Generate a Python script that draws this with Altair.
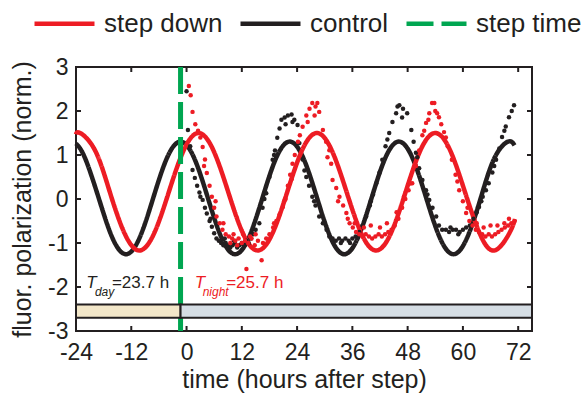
import altair as alt
import pandas as pd

FONT = "Liberation Sans"
RED = "#ed1c24"
BLACK = "#231f20"
GREEN = "#00a651"
TAN = "#f3e7c9"
BLUEGRAY = "#d5dde4"

# ---------------- data ----------------
series_names = ["step down", "control", "step time"]
step_t = -1.3

x_ticks = [-24, -12, 0, 12, 24, 36, 48, 60, 72]
y_ticks = [-3, -2, -1, 0, 1, 2, 3]

# fitted curves
ctrl_fit_t = [-24.0, -22.04, -19.08, -16.11, -13.15, -10.19, -7.23, -4.26, -1.3,
              1.66, 4.63, 7.59, 10.55, 13.51, 16.48, 19.44, 22.4,
              25.36, 28.33, 31.29, 34.25, 37.21, 40.18, 43.14, 46.1,
              49.06, 52.03, 54.99, 57.95, 60.91, 63.88, 66.84, 69.8, 71.2]
ctrl_fit_y = [1.26, 0.93, 0.025, -0.88, -1.255, -0.88, 0.025, 0.93, 1.305,
              0.93, 0.025, -0.88, -1.255, -0.88, 0.025, 0.93, 1.305,
              0.93, 0.025, -0.88, -1.255, -0.88, 0.025, 0.93, 1.305,
              0.93, 0.025, -0.88, -1.255, -0.88, 0.025, 0.93, 1.305, 1.22]

red_fit_t = [-24.0, -23.1, -19.89, -16.68, -13.46, -10.25, -7.04, -3.83, -0.61, 2.6,
             5.81, 9.03, 12.24, 15.45, 18.66, 21.88, 25.09, 28.3,
             31.51, 34.73, 37.94, 41.15, 44.36, 47.58, 50.79, 54.0,
             57.21, 60.43, 63.64, 66.85, 70.06, 71.3]
red_fit_y = [1.47, 1.5, 1.11, 0.165, -0.78, -1.17, -0.78, 0.165, 1.11, 1.5,
             1.11, 0.165, -0.78, -1.17, -0.78, 0.165, 1.11, 1.5,
             1.11, 0.165, -0.78, -1.17, -0.78, 0.165, 1.11, 1.5,
             1.11, 0.165, -0.78, -1.17, -0.78, -0.46]

# measured data points
ctrl_t = [0.0, 0.3, 0.8, 1.3, 1.8, 2.3, 2.8, 3.5, 4.0, 4.4, 5.0, 5.5, 6.0, 6.5, 7.0, 7.5,
          8.0, 8.5, 9.0, 9.5, 10.0, 10.5, 11.0, 11.5, 12.0, 12.5, 13.0, 13.5, 14.0, 14.5,
          15.0, 15.8, 16.5, 17.3, 18.0, 18.7, 19.2, 19.7, 20.2, 20.6, 21.3, 22.0, 22.8,
          23.4, 24.1, 24.5, 25.2, 26.0, 26.6, 27.3, 28.0, 28.8, 29.6, 30.4, 31.0, 31.7,
          32.4, 33.1, 33.8, 34.5, 35.2, 36.0, 36.7, 37.5, 38.2, 39.0, 39.8, 40.5, 41.2,
          41.9, 42.5, 43.2, 44.0, 44.7, 45.5, 46.2, 47.0, 47.9, 48.8, 49.3, 49.8, 50.5,
          51.2, 52.0, 52.7, 53.4, 54.2, 54.8, 55.5, 56.3, 57.0, 57.8, 58.5, 59.3, 60.0,
          60.7, 61.5, 62.3, 63.0, 63.5, 64.3, 65.0, 65.6, 66.4, 67.2, 67.9, 68.5, 69.3,
          70.0, 70.6, 71.1,
          21.5, 23.0, 46.8, 45.8, 8.3, 10.3, 33.5, 35.5, 57.3, 59.0,
          3.0, 5.2, 16.9, 19.0, 25.6, 27.7, 40.0, 43.6, 50.1, 52.3, 64.0, 66.8, 69.0]
ctrl_y = [2.45, 1.57, 1.2, 0.66, 0.48, 0.3, 0.15, -0.02, -0.2, -0.33, -0.5, -0.63, -0.78,
          -0.9, -0.95, -1.0, -1.05, -1.0, -1.05, -1.1, -1.05, -1.0, -1.1, -1.05, -1.0,
          -1.05, -0.95, -1.0, -0.9, -0.8, -0.7, -0.55, -0.2, 0.13, 0.5, 0.89, 1.1, 1.39,
          1.6, 1.8, 1.85, 1.9, 1.92, 1.8, 1.68, 1.27, 0.9, 0.5, 0.3, 0.05, -0.15, -0.4,
          -0.55, -0.7, -0.85, -0.9, -0.95, -0.9, -0.95, -0.9, -0.95, -0.9, -0.85, -0.75,
          -0.6, -0.4, -0.15, 0.1, 0.36, 0.6, 0.89, 1.2, 1.5, 1.75, 1.95, 2.13, 2.05, 1.95,
          1.57, 1.3, 1.05, 0.7, 0.43, 0.2, -0.02, -0.2, -0.4, -0.6, -0.7, -0.7, -0.75,
          -0.7, -0.7, -0.75, -0.7, -0.65, -0.6, -0.45, -0.3, -0.18, 0.05, 0.2, 0.36, 0.6,
          0.89, 1.15, 1.41, 1.65, 1.86, 2.0, 2.13,
          1.7, 1.75, 1.85, 2.1, -0.9, -0.95, -1.0, -1.0, -0.65, -0.8,
          0.05, -0.45, 0.0, 1.0, 0.65, -0.05, -0.05, 1.35, 0.95, 0.1, -0.05, 0.75, 1.55]

step_t_pts = [0.5, 0.9, 1.3, 1.9, 2.5, 3.0, 3.5, 4.0, 4.4, 5.0, 5.5, 6.0, 6.5, 7.2, 7.8,
              8.5, 9.2, 9.9, 10.6, 11.3, 12.0, 12.7, 13.0, 13.4, 14.1, 14.8, 15.5, 16.3,
              16.6, 17.3, 18.0, 18.8, 19.5, 20.2, 20.9, 21.5, 22.0, 22.5, 23.0, 23.5, 24.2,
              25.2, 26.0, 26.7, 27.3, 28.0, 28.8, 29.6, 30.3, 31.0, 31.4, 31.7, 32.5, 33.2,
              34.0, 34.7, 35.4, 36.1, 36.8, 37.5, 38.2, 38.9, 39.6, 40.3, 41.0, 41.7, 42.4,
              43.1, 43.8, 44.5, 45.2, 46.0, 46.8, 47.5, 48.2, 49.0, 49.8, 50.5, 51.2, 52.0,
              52.7, 53.3, 54.0, 54.8, 55.3, 55.9, 56.7, 57.6, 58.4, 59.2, 60.0, 60.7, 61.4,
              62.1, 62.8, 63.5, 64.2, 64.9, 65.6, 66.3, 67.0, 67.7, 68.4, 69.1, 69.8, 70.5,
              71.2,
              9.5, 10.2, 11.0, 12.3, 13.8, 15.0, 36.5, 38.5, 40.0, 42.0, 43.5, 63.0, 64.5,
              66.0, 67.5, 69.0, 26.3, 27.8, 28.4, 52.5, 53.8, 54.4,
              3.8, 6.3, 8.0, 19.0, 21.2, 22.8, 24.6, 30.6, 32.9, 35.0, 45.6, 47.2, 48.6,
              51.6, 56.3, 58.8, 61.0, 70.0]
step_y_pts = [2.57, 2.36, 1.98, 1.7, 1.55, 1.4, 1.18, 0.9, 0.59, 0.3, 0.05, -0.2, -0.4,
              -0.55, -0.7, -0.8, -0.85, -0.9, -0.95, -0.9, -1.0, -0.95, -1.59, -1.0, -0.9,
              -1.05, -0.95, -1.39, -1.0, -0.9, -0.8, -0.65, -0.5, -0.35, -0.18, 0.0, 0.3,
              0.55, 0.8, 1.0, 1.3, 1.64, 1.9, 2.05, 2.18, 2.1, 1.98, 1.57, 1.3, 1.11, 0.8,
              0.43, 0.25, 0.05, -0.15, -0.32, -0.55, -0.65, -0.75, -0.8, -0.85, -0.8, -0.85,
              -0.9, -0.85, -0.8, -0.85, -0.8, -0.75, -0.7, -0.6, -0.45, -0.2, 0.0, 0.2, 0.36,
              0.75, 1.1, 1.45, 1.73, 1.95, 2.18, 2.0, 1.86, 1.7, 1.52, 1.2, 0.89, 0.55, 0.2,
              -0.05, -0.32, -0.5, -0.6, -0.7, -0.75, -0.8, -0.85, -0.8, -0.85, -0.8, -0.75,
              -0.7, -0.65, -0.6, -0.55, -0.5,
              -1.0, -0.8, -1.05, -0.8, -0.85, -0.8, -0.55, -0.65, -0.6, -0.65, -0.55, -0.55,
              -0.65, -0.6, -0.6, -0.55, 1.75, 1.9, 2.18, 1.8, 2.18, 1.95,
              0.75, -0.05, -0.55, -0.55, -0.05, 0.45, 1.45, 0.95, -0.05, -0.45, -0.3, 0.05,
              0.35, 1.55, 1.4, 0.4, -0.2, -0.45]

band_start = [-24, step_t]
band_end = [step_t, 75]
band_fill = [TAN, BLUEGRAY]
band_top = -2.4
band_bottom = -2.7

# ---------------- tables ----------------
ctrl_fit_df = pd.DataFrame({"t": ctrl_fit_t, "y": ctrl_fit_y, "series": "control"})
red_fit_df = pd.DataFrame({"t": red_fit_t, "y": red_fit_y, "series": "step down"})
ctrl_pts_df = pd.DataFrame({"t": ctrl_t, "y": ctrl_y})
step_pts_df = pd.DataFrame({"t": step_t_pts, "y": step_y_pts})
step_df = pd.DataFrame({"t": [step_t], "series": ["step time"]})
band_df = pd.DataFrame({"start": band_start, "end": band_end, "fill": band_fill})
xt_df = pd.DataFrame({"t": x_ticks})
yt_df = pd.DataFrame({"y": y_ticks})

W, H = 456, 264

xscale = alt.Scale(domain=[-24, 75], nice=False, zero=False)
yscale = alt.Scale(domain=[-3, 3], nice=False, zero=False)

leg = alt.Legend(
    title=None, orient="none", legendX=-44, legendY=-76, direction="horizontal",
    symbolType="stroke", symbolSize=3600, symbolStrokeWidth=4.5,
    labelFontSize=26, labelFont=FONT, labelColor=BLACK, labelOffset=7,
    columnPadding=8, padding=0, labelLimit=0,
)
color_enc = alt.Color("series:N", scale=alt.Scale(domain=series_names, range=[RED, BLACK, GREEN]), legend=leg)
dash_enc = alt.StrokeDash("series:N", scale=alt.Scale(domain=series_names, range=[[1, 0], [1, 0], [27, 8]]), legend=leg)

x_axis = alt.Axis(values=x_ticks, ticks=False, domain=False, grid=False, labelFontSize=23,
                  labelPadding=10, labelFont=FONT, labelColor=BLACK, labelFlush=False,
                  labelOverlap=False, labelExpr="'' + datum.value",
                  title="time (hours after step)", titleFont=FONT, titleFontSize=25,
                  titleFontWeight="normal", titleColor=BLACK, titlePadding=3)
y_axis = alt.Axis(values=y_ticks, ticks=False, domain=False, grid=False, labelFontSize=23,
                  labelPadding=8, labelFont=FONT, labelColor=BLACK, labelFlush=False,
                  labelOverlap=False, labelExpr="'' + datum.value",
                  title="fluor. polarization (norm.)", titleFont=FONT, titleFontSize=25,
                  titleFontWeight="normal", titleColor=BLACK, titlePadding=12)

X = alt.X("t:Q", scale=xscale, axis=x_axis)
Y = alt.Y("y:Q", scale=yscale, axis=y_axis)

ctrl_line = alt.Chart(ctrl_fit_df).mark_line(strokeWidth=4.5, interpolate="natural").encode(
    x=X, y=Y, color=color_enc, strokeDash=dash_enc)
red_line = alt.Chart(red_fit_df).mark_line(strokeWidth=4.5, interpolate="natural").encode(
    x="t:Q", y="y:Q", color=color_enc, strokeDash=dash_enc)
ctrl_dots = alt.Chart(ctrl_pts_df).mark_circle(size=20, opacity=1, color=BLACK).encode(x="t:Q", y="y:Q")
step_dots = alt.Chart(step_pts_df).mark_circle(size=20, opacity=1, color=RED).encode(x="t:Q", y="y:Q")
step_rule = alt.Chart(step_df).mark_rule(strokeWidth=5).encode(
    x="t:Q", color=color_enc, strokeDash=dash_enc)
band = alt.Chart(band_df).mark_rect(stroke=BLACK, strokeWidth=2).encode(
    x="start:Q", x2="end:Q", y=alt.datum(band_top), y2=alt.datum(band_bottom),
    fill=alt.Fill("fill:N", scale=None))

tick_len = 5
bot_ticks = alt.Chart(xt_df).mark_rule(color=BLACK, strokeWidth=2).encode(
    x="t:Q", y=alt.value(H), y2=alt.value(H - tick_len))
top_ticks = alt.Chart(xt_df).mark_rule(color=BLACK, strokeWidth=2).encode(
    x="t:Q", y=alt.value(0), y2=alt.value(tick_len))
left_ticks = alt.Chart(yt_df).mark_rule(color=BLACK, strokeWidth=2).encode(
    y="y:Q", x=alt.value(0), x2=alt.value(tick_len))
right_ticks = alt.Chart(yt_df).mark_rule(color=BLACK, strokeWidth=2).encode(
    y="y:Q", x=alt.value(W), x2=alt.value(W - tick_len))

def txt(s, t, y, size, color, italic=False):
    return alt.Chart().mark_text(align="left", baseline="middle", font=FONT, fontSize=size,
                                 color=color, fontStyle="italic" if italic else "normal").encode(
        x=alt.datum(t), y=alt.datum(y), text=alt.value(s))

ann = [
    txt("T", -21.8, -1.9, 17, BLACK, True),
    txt("day", -19.9, -2.11, 12, BLACK, True),
    txt("=23.7 h", -16.2, -1.9, 17, BLACK),
    txt("T", 1.8, -1.9, 17, RED, True),
    txt("night", 3.5, -2.11, 12, RED, True),
    txt("=25.7 h", 8.6, -1.9, 17, RED),
]

chart = alt.layer(
    ctrl_line, red_line, ctrl_dots, step_dots, step_rule, band,
    bot_ticks, top_ticks, left_ticks, right_ticks, *ann
).properties(
    width=W, height=H,
    padding={"left": 76, "top": 67, "right": 50, "bottom": 66},
    autosize=alt.AutoSizeParams(type="none"),
    background="white",
).configure_view(stroke=BLACK, strokeWidth=2)

chart.save("out.html", embed_options={"renderer": "svg", "actions": False})
